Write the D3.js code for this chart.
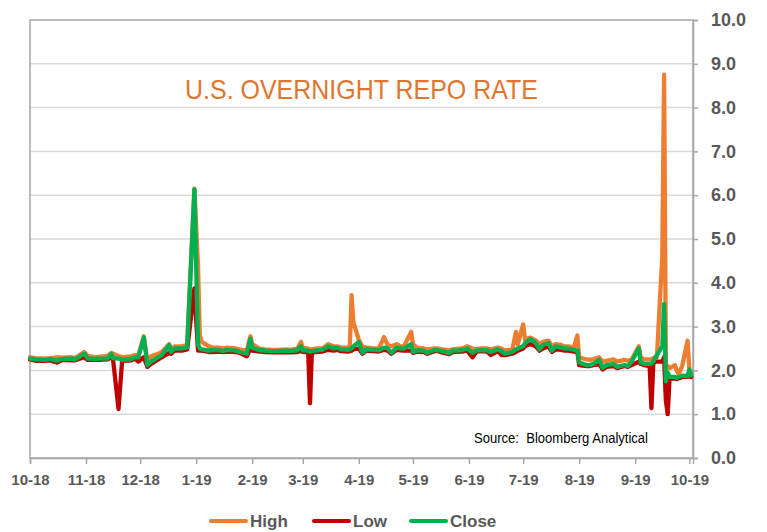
<!DOCTYPE html>
<html>
<head>
<meta charset="utf-8">
<script src="https://cdn.jsdelivr.net/npm/d3@7"></script>
<style>
  html, body { margin: 0; padding: 0; background: #fff; }
  svg { display: block; font-family: "Liberation Sans", Arial, sans-serif; }
</style>
</head>
<body>
<div id="chart"></div>
<script>
// U.S. overnight repo rate: daily High / Low / Close, Oct 2018 - Oct 2019

const DATES = [
  '2018-10-01','2018-10-04','2018-10-09','2018-10-12','2018-10-16','2018-10-19','2018-10-24','2018-10-26','2018-10-31',
  '2018-11-02','2018-11-06','2018-11-08','2018-11-13','2018-11-15','2018-11-16','2018-11-19','2018-11-21','2018-11-26','2018-11-28','2018-11-30',
  '2018-12-03','2018-12-05','2018-12-07','2018-12-11','2018-12-13','2018-12-17','2018-12-18','2018-12-20','2018-12-24','2018-12-27','2018-12-31',
  '2019-01-02','2019-01-03','2019-01-04','2019-01-08','2019-01-10','2019-01-14','2019-01-16','2019-01-18','2019-01-23','2019-01-25','2019-01-29','2019-01-31',
  '2019-02-01','2019-02-05','2019-02-08','2019-02-12','2019-02-15','2019-02-20','2019-02-22','2019-02-26','2019-02-28',
  '2019-03-01','2019-03-04','2019-03-05','2019-03-06','2019-03-08','2019-03-12','2019-03-15','2019-03-18','2019-03-20','2019-03-22','2019-03-26','2019-03-27','2019-03-28','2019-03-29',
  '2019-04-01','2019-04-03','2019-04-05','2019-04-09','2019-04-12','2019-04-15','2019-04-17','2019-04-19','2019-04-22','2019-04-24','2019-04-26','2019-04-30',
  '2019-05-01','2019-05-03','2019-05-07','2019-05-09','2019-05-13','2019-05-15','2019-05-17','2019-05-21','2019-05-23','2019-05-28','2019-05-31',
  '2019-06-03','2019-06-05','2019-06-07','2019-06-11','2019-06-13','2019-06-17','2019-06-19','2019-06-21','2019-06-25','2019-06-27','2019-06-28',
  '2019-07-01','2019-07-02','2019-07-05','2019-07-08','2019-07-10','2019-07-12','2019-07-15','2019-07-17','2019-07-19','2019-07-22','2019-07-24','2019-07-26','2019-07-29','2019-07-31',
  '2019-08-01','2019-08-05','2019-08-07','2019-08-09','2019-08-12','2019-08-14','2019-08-16','2019-08-20','2019-08-22','2019-08-26','2019-08-28','2019-08-30',
  '2019-09-03','2019-09-04','2019-09-06','2019-09-09','2019-09-10','2019-09-11','2019-09-12','2019-09-13','2019-09-16','2019-09-17','2019-09-18','2019-09-19','2019-09-20',
  '2019-09-23','2019-09-24','2019-09-25','2019-09-26','2019-09-27','2019-09-30','2019-10-01','2019-10-02'
];

const HIGH = [
  2.30,2.28,2.27,2.28,2.30,2.29,2.30,2.28,2.42,
  2.33,2.30,2.31,2.33,2.40,2.38,2.33,2.30,2.32,2.35,2.35,
  2.78,2.20,2.32,2.38,2.42,2.60,2.47,2.55,2.55,2.58,6.15,
  4.40,2.80,2.65,2.55,2.52,2.52,2.50,2.52,2.50,2.48,2.45,2.78,
  2.60,2.50,2.48,2.47,2.47,2.48,2.47,2.50,2.65,
  2.52,2.50,2.48,2.48,2.50,2.50,2.60,2.55,2.55,2.52,2.52,2.52,3.72,3.10,
  2.70,2.55,2.52,2.50,2.50,2.76,2.58,2.55,2.60,2.55,2.55,2.88,
  2.60,2.52,2.50,2.48,2.50,2.50,2.48,2.46,2.48,2.50,2.55,
  2.50,2.48,2.50,2.50,2.48,2.52,2.50,2.45,2.48,2.88,2.60,
  3.05,2.70,2.75,2.68,2.60,2.65,2.68,2.55,2.60,2.58,2.55,2.55,2.52,2.80,
  2.30,2.25,2.24,2.26,2.30,2.20,2.22,2.25,2.20,2.24,2.22,2.25,
  2.55,2.30,2.25,2.25,2.25,2.28,2.30,2.30,4.60,8.75,2.05,2.10,2.05,
  2.12,2.00,1.92,2.00,2.10,2.68,2.00,1.95
];

const LOW = [
  2.25,2.22,2.22,2.23,2.18,2.24,2.23,2.23,2.30,
  2.24,2.24,2.24,2.25,2.30,2.24,1.12,2.22,2.23,2.27,2.20,
  2.30,2.08,2.15,2.25,2.30,2.40,2.38,2.45,2.45,2.48,3.87,
  2.45,2.45,2.45,2.42,2.42,2.43,2.42,2.43,2.42,2.40,2.32,2.50,
  2.45,2.43,2.42,2.41,2.41,2.42,2.41,2.42,2.45,
  2.42,2.42,1.25,2.40,2.42,2.43,2.47,2.45,2.47,2.44,2.43,2.44,2.45,2.48,
  2.50,2.38,2.45,2.44,2.43,2.47,2.45,2.38,2.47,2.46,2.45,2.45,
  2.40,2.43,2.42,2.38,2.44,2.44,2.41,2.37,2.42,2.43,2.45,
  2.30,2.42,2.44,2.43,2.35,2.44,2.35,2.35,2.38,2.42,2.45,
  2.50,2.55,2.60,2.55,2.45,2.50,2.55,2.42,2.48,2.47,2.45,2.45,2.43,2.42,
  2.12,2.10,2.10,2.12,2.15,2.02,2.08,2.10,2.05,2.10,2.08,2.12,
  2.20,2.15,2.12,2.10,1.14,2.15,2.20,2.20,2.20,2.30,1.30,1.00,1.80,
  1.82,1.80,1.82,1.83,1.85,1.85,1.88,1.85
];

const CLOSE = [
  2.27,2.25,2.24,2.26,2.22,2.26,2.27,2.25,2.38,
  2.27,2.26,2.27,2.27,2.38,2.28,2.27,2.24,2.26,2.30,2.30,
  2.75,2.12,2.20,2.30,2.35,2.58,2.42,2.50,2.50,2.52,6.13,
  2.60,2.50,2.48,2.45,2.47,2.46,2.44,2.47,2.45,2.42,2.38,2.72,
  2.52,2.46,2.45,2.44,2.44,2.45,2.44,2.46,2.55,
  2.46,2.45,2.43,2.44,2.45,2.47,2.55,2.50,2.52,2.48,2.47,2.48,2.50,2.55,
  2.65,2.40,2.48,2.47,2.46,2.52,2.50,2.40,2.52,2.50,2.50,2.60,
  2.42,2.46,2.45,2.40,2.47,2.46,2.44,2.40,2.45,2.46,2.50,
  2.40,2.45,2.46,2.46,2.42,2.48,2.44,2.38,2.42,2.48,2.50,
  2.55,2.62,2.72,2.62,2.48,2.58,2.62,2.45,2.55,2.52,2.50,2.50,2.47,2.45,
  2.18,2.12,2.12,2.15,2.24,2.06,2.12,2.15,2.08,2.12,2.10,2.20,
  2.50,2.18,2.15,2.15,2.15,2.20,2.28,2.35,2.55,3.52,1.75,1.95,1.85,
  1.85,1.83,1.85,1.86,1.88,1.87,2.02,1.88
];

const SERIES = [
  { name: 'High', values: HIGH, color: '#ED7D31' },
  { name: 'Low', values: LOW, color: '#C00000' },
  { name: 'Close', values: CLOSE, color: '#00B050' }
];

const MONTH_TICKS = ['2018-10-01','2018-11-01','2018-12-01','2019-01-01','2019-02-01','2019-03-01',
  '2019-04-01','2019-05-01','2019-06-01','2019-07-01','2019-08-01','2019-09-01','2019-10-01'];
const Y_TICKS = [0,1,2,3,4,5,6,7,8,9,10];

const W = 767, H = 532;
const m = { left: 30, right: 693, top: 20, bottom: 458 };
const parse = d3.timeParse('%Y-%m-%d');
const dates = DATES.map(parse);

const svg = d3.select('#chart').append('svg')
  .attr('width', W).attr('height', H);

const x = d3.scaleTime()
  .domain([parse('2018-10-01'), parse('2019-10-03')])
  .range([m.left, m.right]);
const y = d3.scaleLinear().domain([0, 10]).range([m.bottom, m.top]);

// gridlines
svg.append('g')
  .selectAll('line')
  .data(Y_TICKS.filter(d => d > 0 && d < 10))
  .join('line')
  .attr('x1', m.left).attr('x2', m.right)
  .attr('y1', d => y(d)).attr('y2', d => y(d))
  .attr('stroke', '#d9d9d9').attr('stroke-width', 1.5);

// plot frame
svg.append('rect')
  .attr('x', m.left).attr('y', m.top)
  .attr('width', m.right - m.left).attr('height', m.bottom - m.top)
  .attr('fill', 'none').attr('stroke', '#a6a6a6').attr('stroke-width', 1.5);

// right axis
const yAxis = svg.append('g')
  .attr('transform', `translate(${m.right},0)`)
  .call(d3.axisRight(y).tickValues(Y_TICKS).tickFormat(d3.format('.1f')).tickSize(5).tickPadding(13));
yAxis.select('.domain').attr('stroke', '#a6a6a6').attr('stroke-width', 1.5);
yAxis.selectAll('.tick line').attr('stroke', '#a6a6a6').attr('stroke-width', 1.5);
yAxis.selectAll('text')
  .attr('fill', '#595959').style('font-size', '18px').style('font-weight', 'bold');

// bottom axis
const xAxis = svg.append('g')
  .attr('transform', `translate(0,${m.bottom})`)
  .call(d3.axisBottom(x).tickValues(MONTH_TICKS.map(parse)).tickFormat(d3.timeFormat('%-m-%y')).tickSize(6).tickPadding(10));
xAxis.select('.domain').attr('stroke', '#a6a6a6').attr('stroke-width', 1.5);
xAxis.selectAll('.tick line').attr('stroke', '#a6a6a6').attr('stroke-width', 1.5);
xAxis.selectAll('text')
  .attr('fill', '#595959').style('font-size', '15px').style('font-weight', 'bold');

// series lines
const line = values => d3.line()
  .x((d, i) => x(dates[i]))
  .y(d => y(d))(values);

svg.append('g')
  .selectAll('path')
  .data(SERIES)
  .join('path')
  .attr('d', s => line(s.values))
  .attr('fill', 'none')
  .attr('stroke', s => s.color)
  .attr('stroke-width', 4.3)
  .attr('stroke-linejoin', 'round')
  .attr('stroke-linecap', 'round');

// title and source
svg.append('text')
  .attr('x', 185).attr('y', 99)
  .attr('textLength', 353).attr('lengthAdjust', 'spacingAndGlyphs')
  .attr('fill', '#E07530')
  .style('font-size', '28px')
  .text('U.S. OVERNIGHT REPO RATE');

svg.append('text')
  .attr('x', 474).attr('y', 443)
  .attr('textLength', 174).attr('lengthAdjust', 'spacingAndGlyphs')
  .attr('fill', '#000')
  .style('font-size', '14px')
  .attr('xml:space', 'preserve')
  .text('Source:  Bloomberg Analytical');

// legend
const legendX = [211, 314, 411];
const legend = svg.append('g')
  .selectAll('g')
  .data(SERIES)
  .join('g')
  .attr('transform', (d, i) => `translate(${legendX[i]},521)`);
legend.append('line')
  .attr('x1', 0).attr('x2', 35)
  .attr('stroke', d => d.color).attr('stroke-width', 4).attr('stroke-linecap', 'round');
legend.append('text')
  .attr('x', 39).attr('dy', '0.35em')
  .attr('fill', '#595959')
  .style('font-size', '17px').style('font-weight', 'bold')
  .text(d => d.name);
</script>
</body>
</html>
